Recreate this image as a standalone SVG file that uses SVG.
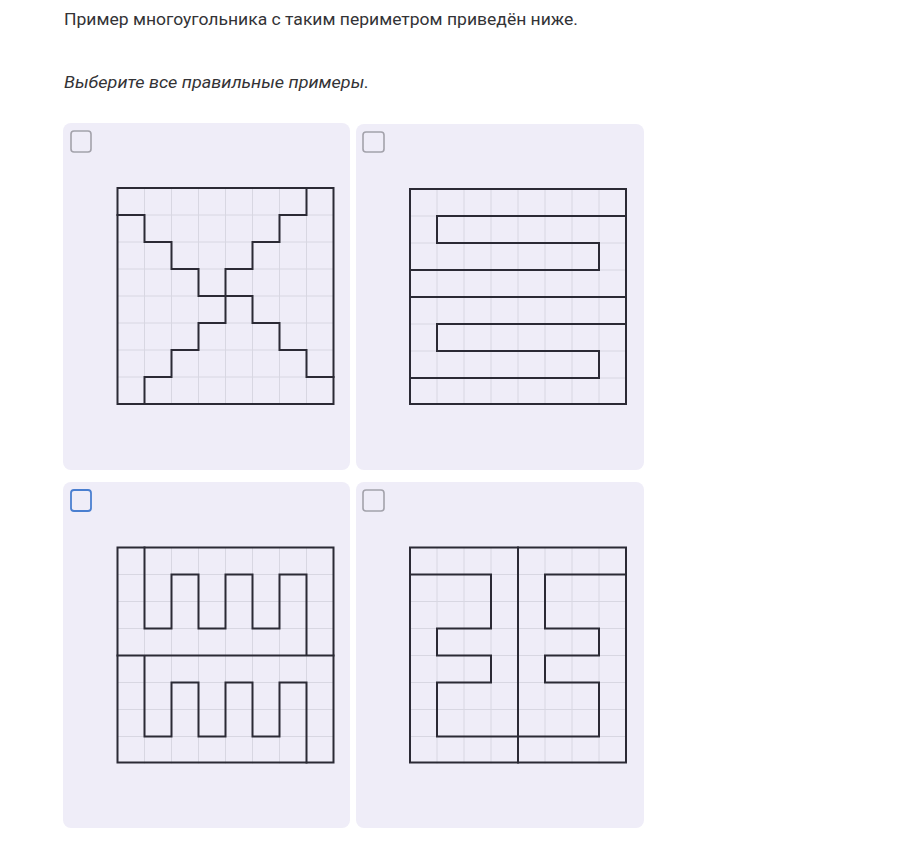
<svg xmlns="http://www.w3.org/2000/svg" width="903" height="856" viewBox="0 0 903 856">
<defs>
<style>
.txt{font-family:Roboto,"Noto Sans","Liberation Sans",sans-serif;font-size:16px;fill:#333336}
.it{font-style:italic}
.card{fill:#efedf8}
.cb{fill:none;stroke:#a3a2ab;stroke-width:1.6}
.cb.on{stroke:#4a7fd0;stroke-width:1.8}
.grid{fill:none;stroke:#d8d7e2;stroke-width:1}
.fig{fill:none;stroke:#2b2a35;stroke-width:2;stroke-linejoin:miter;stroke-linecap:square}
</style>
<path id="gridlines" d="M27,0V216M54,0V216M81,0V216M108,0V216M135,0V216M162,0V216M189,0V216M0,27H216M0,54H216M0,81H216M0,108H216M0,135H216M0,162H216M0,189H216"/>
</defs>
<rect width="903" height="856" fill="#ffffff"/>
<text class="txt" x="64" y="25" textLength="514" lengthAdjust="spacingAndGlyphs">Пример многоугольника с таким периметром приведён ниже.</text>
<text class="txt it" x="64" y="88" textLength="305" lengthAdjust="spacingAndGlyphs">Выберите все правильные примеры.</text>

<g id="option1">
<rect class="card" x="63" y="123" width="287" height="347" rx="8"/>
<rect class="cb" x="71" y="131" width="20" height="21" rx="3"/>
<g transform="translate(117.5,188)">
<use href="#gridlines" class="grid"/>
<rect class="fig" x="0" y="0" width="216" height="216"/>
<path class="fig" d="M0,27H27V54H54V81H81V108H135V135H162V162H189V189H216M189,0V27H162V54H135V81H108V135H81V162H54V189H27V216"/>
</g>
</g>

<g id="option2">
<rect class="card" x="356" y="124" width="288" height="346" rx="8"/>
<rect class="cb" x="363" y="132" width="21" height="20" rx="3"/>
<g transform="translate(410,189)">
<use href="#gridlines" class="grid"/>
<rect class="fig" x="0" y="0" width="216" height="215"/>
<path class="fig" d="M216,27H27V54H189V81H0M0,108H216M216,135H27V162H189V189H0"/>
</g>
</g>

<g id="option3">
<rect class="card" x="63" y="482" width="287" height="346" rx="8"/>
<rect class="cb on" x="71" y="490" width="20" height="21" rx="3"/>
<g transform="translate(117.5,547.5)">
<use href="#gridlines" class="grid"/>
<rect class="fig" x="0" y="0" width="216" height="215"/>
<path class="fig" d="M27,0V81H54V27H81V81H108V27H135V81H162V27H189V108M0,108H216M27,108V189H54V135H81V189H108V135H135V189H162V135H189V215"/>
</g>
</g>

<g id="option4">
<rect class="card" x="356" y="482" width="288" height="346" rx="8"/>
<rect class="cb" x="363" y="490" width="21" height="21" rx="3"/>
<g transform="translate(410,547.5)">
<use href="#gridlines" class="grid"/>
<rect class="fig" x="0" y="0" width="216" height="215"/>
<path class="fig" d="M108,0V215M0,27H81V81H27V108H81V135H27V189H189V135H135V108H189V81H135V27H216"/>
</g>
</g>
</svg>
